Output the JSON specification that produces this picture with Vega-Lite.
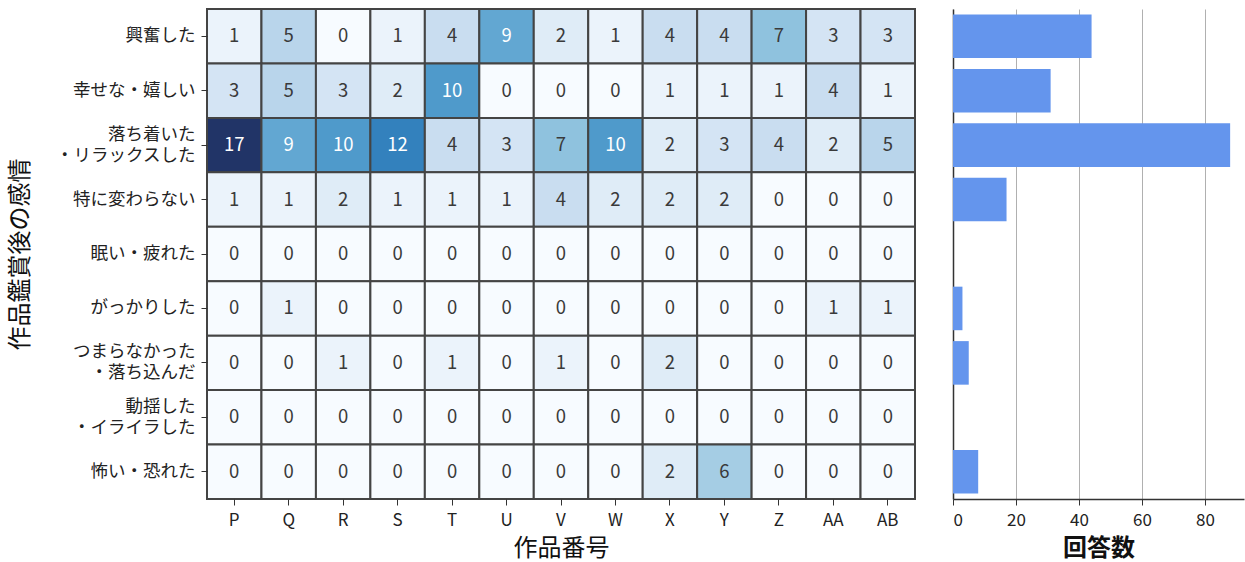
{
  "$schema": "https://vega.github.io/schema/vega-lite/v6.json",
  "padding": {"left": 8, "top": 8, "right": 1, "bottom": 3},
  "background": "white",
  "config": {
    "font": "Noto Sans CJK JP",
    "view": {"stroke": null},
    "concat": {"spacing": 36},
    "axis": {"labelColor": "#222", "titleColor": "#111", "tickColor": "#333", "domainColor": "#333", "titleFontWeight": "normal"}
  },
  "datasets": {
    "d": [
      {"e":"興奮した","w":"P","n":1},{"e":"興奮した","w":"Q","n":5},{"e":"興奮した","w":"R","n":0},{"e":"興奮した","w":"S","n":1},{"e":"興奮した","w":"T","n":4},{"e":"興奮した","w":"U","n":9},{"e":"興奮した","w":"V","n":2},{"e":"興奮した","w":"W","n":1},{"e":"興奮した","w":"X","n":4},{"e":"興奮した","w":"Y","n":4},{"e":"興奮した","w":"Z","n":7},{"e":"興奮した","w":"AA","n":3},{"e":"興奮した","w":"AB","n":3},
      {"e":"幸せな・嬉しい","w":"P","n":3},{"e":"幸せな・嬉しい","w":"Q","n":5},{"e":"幸せな・嬉しい","w":"R","n":3},{"e":"幸せな・嬉しい","w":"S","n":2},{"e":"幸せな・嬉しい","w":"T","n":10},{"e":"幸せな・嬉しい","w":"U","n":0},{"e":"幸せな・嬉しい","w":"V","n":0},{"e":"幸せな・嬉しい","w":"W","n":0},{"e":"幸せな・嬉しい","w":"X","n":1},{"e":"幸せな・嬉しい","w":"Y","n":1},{"e":"幸せな・嬉しい","w":"Z","n":1},{"e":"幸せな・嬉しい","w":"AA","n":4},{"e":"幸せな・嬉しい","w":"AB","n":1},
      {"e":"落ち着いた\n・リラックスした","w":"P","n":17},{"e":"落ち着いた\n・リラックスした","w":"Q","n":9},{"e":"落ち着いた\n・リラックスした","w":"R","n":10},{"e":"落ち着いた\n・リラックスした","w":"S","n":12},{"e":"落ち着いた\n・リラックスした","w":"T","n":4},{"e":"落ち着いた\n・リラックスした","w":"U","n":3},{"e":"落ち着いた\n・リラックスした","w":"V","n":7},{"e":"落ち着いた\n・リラックスした","w":"W","n":10},{"e":"落ち着いた\n・リラックスした","w":"X","n":2},{"e":"落ち着いた\n・リラックスした","w":"Y","n":3},{"e":"落ち着いた\n・リラックスした","w":"Z","n":4},{"e":"落ち着いた\n・リラックスした","w":"AA","n":2},{"e":"落ち着いた\n・リラックスした","w":"AB","n":5},
      {"e":"特に変わらない","w":"P","n":1},{"e":"特に変わらない","w":"Q","n":1},{"e":"特に変わらない","w":"R","n":2},{"e":"特に変わらない","w":"S","n":1},{"e":"特に変わらない","w":"T","n":1},{"e":"特に変わらない","w":"U","n":1},{"e":"特に変わらない","w":"V","n":4},{"e":"特に変わらない","w":"W","n":2},{"e":"特に変わらない","w":"X","n":2},{"e":"特に変わらない","w":"Y","n":2},{"e":"特に変わらない","w":"Z","n":0},{"e":"特に変わらない","w":"AA","n":0},{"e":"特に変わらない","w":"AB","n":0},
      {"e":"眠い・疲れた","w":"P","n":0},{"e":"眠い・疲れた","w":"Q","n":0},{"e":"眠い・疲れた","w":"R","n":0},{"e":"眠い・疲れた","w":"S","n":0},{"e":"眠い・疲れた","w":"T","n":0},{"e":"眠い・疲れた","w":"U","n":0},{"e":"眠い・疲れた","w":"V","n":0},{"e":"眠い・疲れた","w":"W","n":0},{"e":"眠い・疲れた","w":"X","n":0},{"e":"眠い・疲れた","w":"Y","n":0},{"e":"眠い・疲れた","w":"Z","n":0},{"e":"眠い・疲れた","w":"AA","n":0},{"e":"眠い・疲れた","w":"AB","n":0},
      {"e":"がっかりした","w":"P","n":0},{"e":"がっかりした","w":"Q","n":1},{"e":"がっかりした","w":"R","n":0},{"e":"がっかりした","w":"S","n":0},{"e":"がっかりした","w":"T","n":0},{"e":"がっかりした","w":"U","n":0},{"e":"がっかりした","w":"V","n":0},{"e":"がっかりした","w":"W","n":0},{"e":"がっかりした","w":"X","n":0},{"e":"がっかりした","w":"Y","n":0},{"e":"がっかりした","w":"Z","n":0},{"e":"がっかりした","w":"AA","n":1},{"e":"がっかりした","w":"AB","n":1},
      {"e":"つまらなかった\n・落ち込んだ","w":"P","n":0},{"e":"つまらなかった\n・落ち込んだ","w":"Q","n":0},{"e":"つまらなかった\n・落ち込んだ","w":"R","n":1},{"e":"つまらなかった\n・落ち込んだ","w":"S","n":0},{"e":"つまらなかった\n・落ち込んだ","w":"T","n":1},{"e":"つまらなかった\n・落ち込んだ","w":"U","n":0},{"e":"つまらなかった\n・落ち込んだ","w":"V","n":1},{"e":"つまらなかった\n・落ち込んだ","w":"W","n":0},{"e":"つまらなかった\n・落ち込んだ","w":"X","n":2},{"e":"つまらなかった\n・落ち込んだ","w":"Y","n":0},{"e":"つまらなかった\n・落ち込んだ","w":"Z","n":0},{"e":"つまらなかった\n・落ち込んだ","w":"AA","n":0},{"e":"つまらなかった\n・落ち込んだ","w":"AB","n":0},
      {"e":"動揺した\n・イライラした","w":"P","n":0},{"e":"動揺した\n・イライラした","w":"Q","n":0},{"e":"動揺した\n・イライラした","w":"R","n":0},{"e":"動揺した\n・イライラした","w":"S","n":0},{"e":"動揺した\n・イライラした","w":"T","n":0},{"e":"動揺した\n・イライラした","w":"U","n":0},{"e":"動揺した\n・イライラした","w":"V","n":0},{"e":"動揺した\n・イライラした","w":"W","n":0},{"e":"動揺した\n・イライラした","w":"X","n":0},{"e":"動揺した\n・イライラした","w":"Y","n":0},{"e":"動揺した\n・イライラした","w":"Z","n":0},{"e":"動揺した\n・イライラした","w":"AA","n":0},{"e":"動揺した\n・イライラした","w":"AB","n":0},
      {"e":"怖い・恐れた","w":"P","n":0},{"e":"怖い・恐れた","w":"Q","n":0},{"e":"怖い・恐れた","w":"R","n":0},{"e":"怖い・恐れた","w":"S","n":0},{"e":"怖い・恐れた","w":"T","n":0},{"e":"怖い・恐れた","w":"U","n":0},{"e":"怖い・恐れた","w":"V","n":0},{"e":"怖い・恐れた","w":"W","n":0},{"e":"怖い・恐れた","w":"X","n":2},{"e":"怖い・恐れた","w":"Y","n":6},{"e":"怖い・恐れた","w":"Z","n":0},{"e":"怖い・恐れた","w":"AA","n":0},{"e":"怖い・恐れた","w":"AB","n":0}
    ]
  },
  "data": {"name": "d"},
  "hconcat": [
    {
      "width": 708,
      "height": 490,
      "encoding": {
        "x": {
          "field": "w", "type": "nominal",
          "sort": ["P","Q","R","S","T","U","V","W","X","Y","Z","AA","AB"],
          "scale": {"paddingInner": 0, "paddingOuter": 0},
          "axis": {"title": "作品番号", "labelAngle": 0, "labelFontSize": 17, "titleFontSize": 24, "tickSize": 6, "domain": false, "labelPadding": 7, "titlePadding": 8}
        },
        "y": {
          "field": "e", "type": "nominal",
          "sort": ["興奮した","幸せな・嬉しい","落ち着いた\n・リラックスした","特に変わらない","眠い・疲れた","がっかりした","つまらなかった\n・落ち込んだ","動揺した\n・イライラした","怖い・恐れた"],
          "scale": {"paddingInner": 0, "paddingOuter": 0},
          "axis": {
            "title": "作品鑑賞後の感情",
            "labelExpr": "split(datum.label, '\\n')",
            "labelFontSize": 17.5, "labelLineHeight": 21,
            "labelOffset": {"condition": {"test": "indexof(datum.label, '\\n') >= 0", "value": -10.5}, "value": 0},
            "titleFontSize": 24, "tickSize": 6, "domain": false, "labelPadding": 6, "titlePadding": 23
          }
        }
      },
      "layer": [
        {
          "mark": {"type": "rect", "stroke": "#444", "strokeWidth": 2},
          "encoding": {
            "color": {
              "field": "n", "type": "quantitative", "legend": null,
              "scale": {"domain": [0, 2.125, 4.25, 6.375, 8.5, 10.625, 12.75, 14.875, 17], "range": ["#f7fbff","#deebf7","#c6dbef","#9ecae1","#6baed6","#4292c6","#2c78b8","#1f55a0","#213467"]}
            }
          }
        },
        {
          "mark": {"type": "text", "fontSize": 18.5},
          "encoding": {
            "text": {"field": "n", "type": "quantitative"},
            "color": {"condition": {"test": "datum.n > 8", "value": "white"}, "value": "#3a3a3a"}
          }
        }
      ]
    },
    {
      "width": 291,
      "height": 490,
      "mark": {"type": "bar", "color": "#6495ED"},
      "encoding": {
        "y": {
          "field": "e", "type": "nominal",
          "sort": ["興奮した","幸せな・嬉しい","落ち着いた\n・リラックスした","特に変わらない","眠い・疲れた","がっかりした","つまらなかった\n・落ち込んだ","動揺した\n・イライラした","怖い・恐れた"],
          "scale": {"paddingInner": 0.2, "paddingOuter": 0.1},
          "axis": {"title": null, "labels": false, "ticks": false, "domain": true, "domainWidth": 1.5}
        },
        "x": {
          "aggregate": "sum", "field": "n", "type": "quantitative",
          "scale": {"domain": [0, 92.4], "nice": false},
          "axis": {"title": "回答数", "values": [0,20,40,60,80], "grid": true, "gridColor": "#b0b0b0", "gridWidth": 1, "labelFontSize": 17, "titleFontSize": 24, "titleFontWeight": "bold", "tickSize": 6, "domainWidth": 1.5, "labelPadding": 7, "titlePadding": 8}
        }
      }
    }
  ]
}
